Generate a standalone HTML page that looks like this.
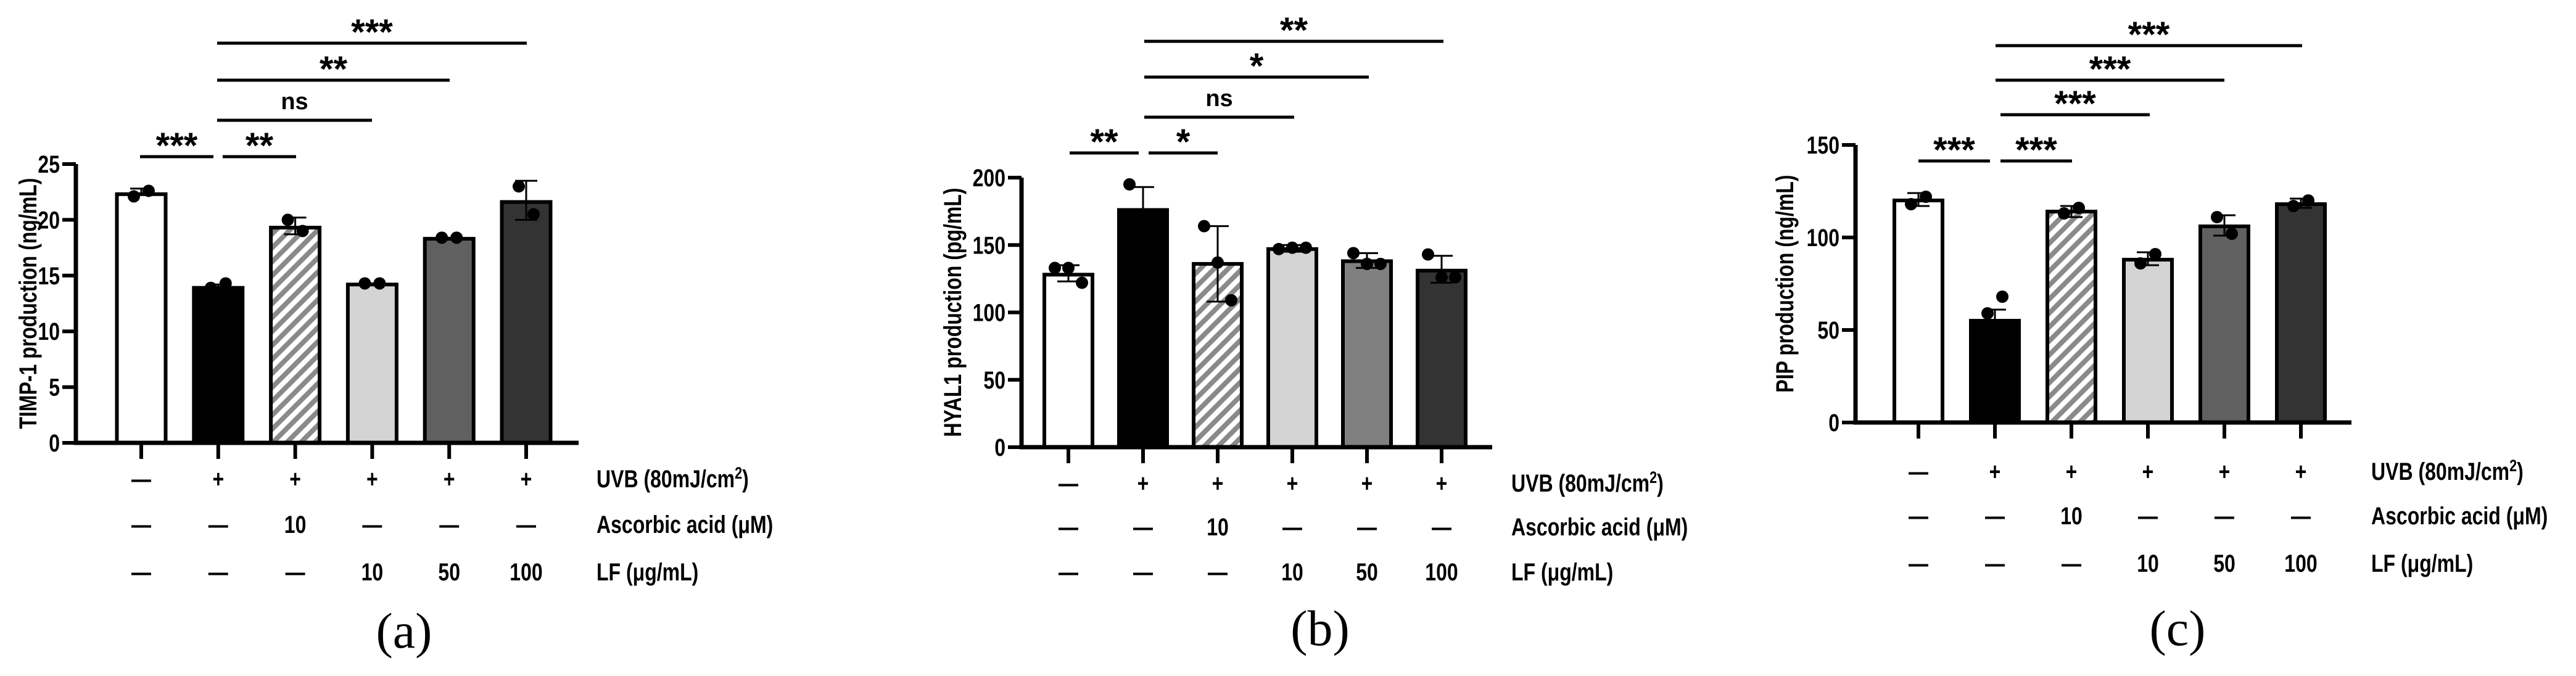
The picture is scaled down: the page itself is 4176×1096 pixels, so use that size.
<!DOCTYPE html>
<html><head><meta charset="utf-8">
<style>
html,body{margin:0;padding:0;background:#fff;}
svg{display:block;}
text{font-family:"Liberation Sans Narrow","Liberation Sans",sans-serif;font-weight:bold;fill:#000;}
.cap{font-family:"Liberation Serif",serif;font-weight:normal;}
</style></head>
<body>
<svg id="fig" width="4176" height="1096" viewBox="0 0 4176 1096" xmlns="http://www.w3.org/2000/svg">
<defs>
<pattern id="hatch" patternUnits="userSpaceOnUse" width="16" height="16" patternTransform="rotate(45)">
<rect width="16" height="16" fill="#fff"/><rect width="8" height="16" fill="#8a8a8a"/>
</pattern>
</defs>
</svg>
<script>
// ---- Data ----
const groups = ["control","UVB","UVB+AA","UVB+LF10","UVB+LF50","UVB+LF100"];
const uvbRow = ["—","+","+","+","+","+"];
const aaRow = ["—","—","10","—","—","—"];
const lfRow = ["—","—","—","10","50","100"];
const timpValues = [22.3,13.9,19.3,14.2,18.3,21.6];
const timpErrHi = [22.8,14.2,20.2,14.3,18.4,23.5];
const timpErrLo = [22.3,13.9,18.7,14.2,18.3,20.0];
const timpPoints = [[22.1,22.6],[13.9,14.3],[20.0,19.0],[14.3,14.3],[18.4,18.4],[23.0,20.5]];
const timpTicks = [0,5,10,15,20,25];
const hyalValues = [128,176,136,147,138,131];
const hyalErrHi = [135,193,164,150,144,142];
const hyalErrLo = [123,176,108,145,133,122];
const hyalPoints = [[133,133,122],[195,170,163],[164,137,109],[147,148,148],[144,136,136],[143,126,126]];
const hyalTicks = [0,50,100,150,200];
const pipValues = [120,55,114,88,106,118];
const pipErrHi = [124,61,117,92,112,121];
const pipErrLo = [117,55,111,85,101,116];
const pipPoints = [[118,122],[59,68],[113,116],[86,91],[111,102],[117,120]];
const pipTicks = [0,50,100,150];
const timpSig = [["***",0,1],["**",1,2],["ns",1,3],["**",1,4],["***",1,5]];
const hyalSig = [["**",0,1],["*",1,2],["ns",1,3],["*",1,4],["**",1,5]];
const pipSig = [["***",0,1],["***",1,2],["***",1,3],["***",1,4],["***",1,5]];

const fills = {
 a:["#fff","#000","url(#hatch)","#d4d4d4","#606060","#333"],
 b:["#fff","#000","url(#hatch)","#d4d4d4","#808080","#333"],
 c:["#fff","#000","url(#hatch)","#d4d4d4","#606060","#333"]
};
const panels = [
 {id:"a",title:"TIMP-1 production (ng/mL)",vals:timpValues,hi:timpErrHi,lo:timpErrLo,pts:timpPoints,ticks:timpTicks,sig:timpSig,
  ax:123,y0:718,ytop:266,max:25,xend:938,cx0:229,step:124.8,bw:79,rowX:967,rowY:[776,850,927],capX:655,capY:1050,titleX:45,
  sigY:[254,254,195,130,70],sigX:[[227,346],[361,480],[352,603],[352,729],[352,854]]},
 {id:"b",title:"HYAL1 production (pg/mL)",vals:hyalValues,hi:hyalErrHi,lo:hyalErrLo,pts:hyalPoints,ticks:hyalTicks,sig:hyalSig,
  ax:1656,y0:725,ytop:288,max:200,xend:2419,cx0:1732,step:121,bw:78,rowX:2450,rowY:[783,854,927],capX:2140,capY:1046,titleX:1544,
  sigY:[248,248,190,125,67],sigX:[[1734,1846],[1862,1974],[1855,2098],[1855,2219],[1855,2340]]},
 {id:"c",title:"PIP production (ng/mL)",vals:pipValues,hi:pipErrHi,lo:pipErrLo,pts:pipPoints,ticks:pipTicks,sig:pipSig,
  ax:3008,y0:685,ytop:235,max:150,xend:3812,cx0:3110,step:124,bw:78,rowX:3844,rowY:[764,836,913],capX:3530,capY:1046,titleX:2893,
  sigY:[261,261,186,130,74],sigX:[[3110,3226],[3243,3359],[3243,3485],[3235,3606],[3235,3732]]}
];
const NS="http://www.w3.org/2000/svg";
const svg=document.getElementById("fig");
function mk(tag,attrs,parent){const e=document.createElementNS(NS,tag);for(const k in attrs)e.setAttribute(k,attrs[k]);(parent||svg).appendChild(e);return e;}
function ctext(parent,x,y,size,anchor,rot){
 const tr=rot?`translate(${x} ${y}) rotate(${rot}) scale(0.8 1)`:`translate(${x} ${y}) scale(0.8 1)`;
 return mk("text",{x:0,y:0,"text-anchor":anchor,"font-size":size,transform:tr},parent);
}

panels.forEach(p=>{
 const g=mk("g",{});
 
 
 const y=v=>p.y0-(v/p.max)*(p.y0-p.ytop);
 const x=i=>p.cx0+i*p.step;
 p.vals.forEach((v,i)=>{
  const r=mk("rect",{x:x(i)-p.bw/2,y:y(v),width:p.bw,height:p.y0-y(v),fill:fills[p.id][i],stroke:"#000","stroke-width":6},g);
  
  
  const e=mk("path",{d:`M${x(i)} ${y(p.lo[i])}V${y(p.hi[i])}M${x(i)-18} ${y(p.hi[i])}H${x(i)+18}M${x(i)-18} ${y(p.lo[i])}H${x(i)+18}`,stroke:"#000","stroke-width":3,fill:"none"},g);
  
  
  const n=p.pts[i].length;
  p.pts[i].forEach((pv,j)=>{
   const off=n===1?0:(j-(n-1)/2)*(n===2?24:22);
   const c=mk("circle",{cx:x(i)+off,cy:y(pv),r:10,fill:"#000"},g);
   
   
  });
  const t=mk("line",{x1:x(i),x2:x(i),y1:p.y0,y2:p.y0+26,stroke:"#000","stroke-width":6},g);
  
  
  [uvbRow,aaRow,lfRow].forEach((row,ri)=>{
   const tt=ctext(g,x(i),p.rowY[ri]+14,40,"middle");
   tt.textContent=row[i];
   
   
  });
 });
 const ax=mk("path",{d:`M${p.ax} ${p.ytop}V${p.y0}H${p.xend}`,stroke:"#000","stroke-width":7,fill:"none"},g);
 
 
 p.ticks.forEach(tv=>{
  const l=mk("line",{x1:p.ax-22,x2:p.ax,y1:y(tv),y2:y(tv),stroke:"#000","stroke-width":6},g);
  
  
  const t=ctext(g,p.ax-26,y(tv)+14,40,"end");
  t.textContent=tv;
  
  
 });
 const yt=ctext(g,p.titleX+14,(p.y0+p.ytop)/2,40,"middle",-90);
 yt.textContent=p.title;
 
 
 const rl=[["UVB (80mJ/cm","2",")"],["Ascorbic acid (μM)"],["LF (μg/mL)"]];
 rl.forEach((lab,ri)=>{
  const t=ctext(g,p.rowX,p.rowY[ri]+14,40,"start");
  if(lab.length>1){
   t.appendChild(document.createTextNode(lab[0]));
   const s=mk("tspan",{dy:-14,"font-size":27},t);s.textContent=lab[1];
   const s2=mk("tspan",{dy:14},t);s2.textContent=lab[2];
  } else t.textContent=lab[0];
  
  
 });
 p.sig.forEach((s,k)=>{
  const [x1,x2]=p.sigX[k]; const yy=p.sigY[k];
  const l=mk("line",{x1:x1,x2:x2,y1:yy,y2:yy,stroke:"#000","stroke-width":5},g);
  
  
  const isNs=s[0]==="ns";
  const t=mk("text",{x:(x1+x2)/2,y:isNs?yy-18:yy+2,"text-anchor":"middle","font-size":isNs?38:58,"font-weight":isNs?"normal":"bold"},g);
  t.textContent=s[0];
  
  
 });
 const cap=mk("text",{x:p.capX,y:p.capY,"text-anchor":"middle","font-size":82,class:"cap"},g);
 cap.textContent="("+p.id+")";
 
 
});
</script>
</body></html>
